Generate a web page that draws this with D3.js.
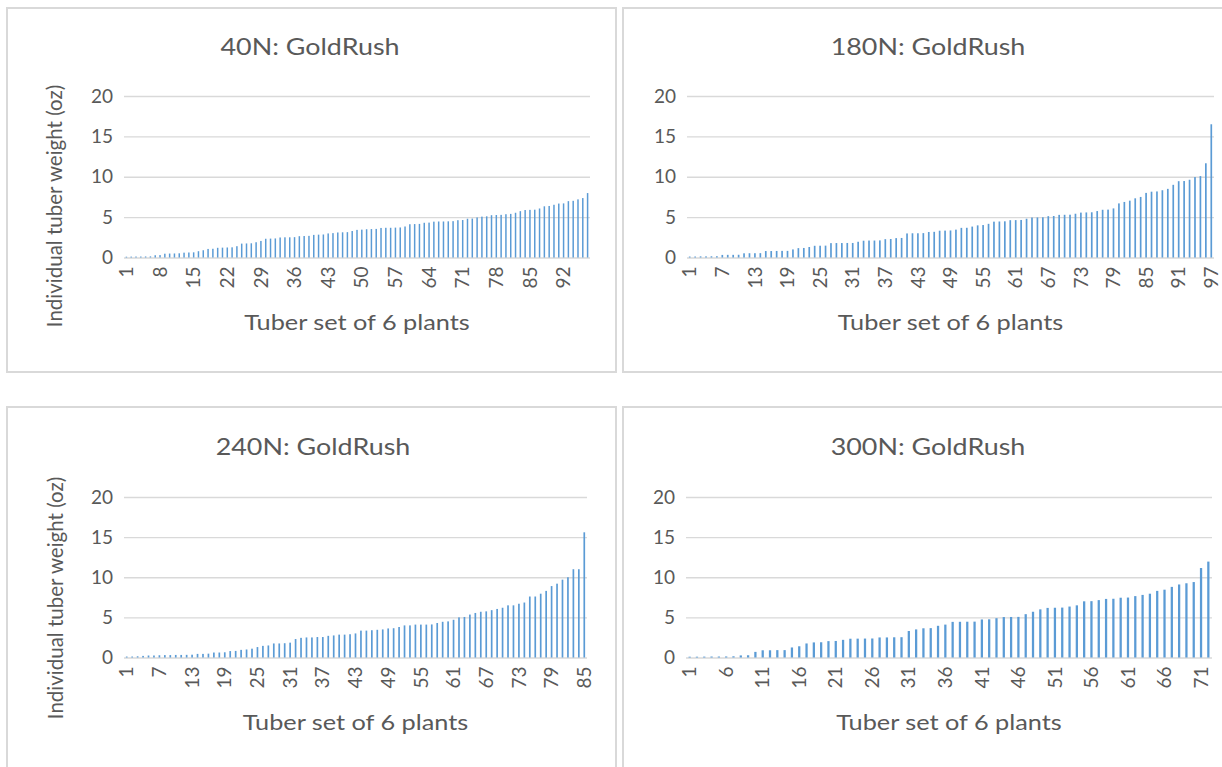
<!DOCTYPE html>
<html>
<head>
<meta charset="utf-8">
<script src="https://cdn.jsdelivr.net/npm/d3@7"></script>
<style>
  body { margin: 0; background: #fff; }
  text { font-family: Lato, "Open Sans", sans-serif; fill: #595959; }
</style>
</head>
<body>
<svg id="chart" width="1222" height="767"></svg>
<script>
// tick values shared by all four charts
const yTicks = [0, 5, 10, 15, 20];

// individual tuber weights (oz), sorted, per N rate
const w40 = [0.10,0.11,0.12,0.12,0.13,0.14,0.28,0.30,0.47,0.49,0.50,0.52,0.60,0.62,0.64,0.78,0.90,1.06,1.08,1.20,
  1.22,1.24,1.26,1.40,1.72,1.74,1.76,1.89,2.05,2.32,2.34,2.36,2.48,2.50,2.50,2.52,2.64,2.66,2.68,2.80,
  2.83,2.85,2.98,3.02,3.10,3.12,3.14,3.28,3.42,3.45,3.50,3.52,3.54,3.66,3.68,3.68,3.70,3.72,3.84,4.12,
  4.14,4.16,4.30,4.32,4.44,4.46,4.46,4.48,4.50,4.62,4.64,4.80,4.82,4.96,5.06,5.10,5.24,5.26,5.28,5.36,
  5.40,5.54,5.74,5.88,5.90,5.92,6.07,6.34,6.38,6.53,6.68,6.70,6.98,7.02,7.20,7.36,7.98];

const w180 = [0.12,0.12,0.14,0.14,0.15,0.16,0.32,0.33,0.33,0.34,0.52,0.53,0.53,0.54,0.80,0.80,0.81,0.82,0.82,1.00,
  1.16,1.18,1.30,1.45,1.46,1.47,1.78,1.79,1.79,1.80,1.80,1.95,2.08,2.10,2.10,2.12,2.27,2.29,2.40,2.42,
  2.98,3.00,3.00,3.02,3.16,3.18,3.32,3.33,3.35,3.45,3.67,3.68,3.83,3.98,4.02,4.17,4.44,4.46,4.48,4.62,
  4.63,4.65,4.80,4.95,4.96,4.98,5.12,5.14,5.28,5.29,5.30,5.42,5.56,5.58,5.60,5.75,5.91,5.93,6.08,6.70,
  6.88,7.04,7.33,7.50,8.00,8.15,8.18,8.33,8.50,9.00,9.45,9.47,9.63,9.96,10.08,11.67,16.50];

const w240 = [0.12,0.12,0.15,0.20,0.25,0.25,0.28,0.30,0.30,0.32,0.32,0.33,0.35,0.45,0.45,0.48,0.62,0.62,0.65,0.80,
  0.82,0.95,1.00,1.10,1.30,1.45,1.50,1.75,1.75,1.78,1.85,2.30,2.45,2.50,2.50,2.55,2.55,2.70,2.75,2.85,
  2.85,2.90,3.00,3.35,3.35,3.40,3.45,3.50,3.62,3.65,3.80,4.00,4.00,4.10,4.10,4.10,4.12,4.30,4.45,4.50,
  4.70,5.00,5.05,5.35,5.55,5.70,5.75,5.90,6.05,6.20,6.50,6.50,6.70,6.85,7.60,7.60,7.95,8.30,8.90,9.20,
  9.70,10.00,11.00,11.00,15.60];

const w300 = [0.10,0.10,0.11,0.12,0.12,0.13,0.15,0.26,0.28,0.70,0.90,0.90,0.92,0.92,1.25,1.40,1.75,1.88,1.90,2.04,
  2.06,2.20,2.34,2.35,2.36,2.37,2.50,2.50,2.52,2.53,3.30,3.50,3.64,3.66,3.95,4.10,4.44,4.45,4.46,4.47,
  4.74,4.76,4.90,5.04,5.05,5.06,5.40,5.70,6.00,6.18,6.20,6.22,6.35,6.50,7.00,7.02,7.15,7.30,7.32,7.45,
  7.47,7.65,7.80,7.95,8.30,8.45,8.80,9.10,9.25,9.40,11.15,11.95];

const panels = [
  { title: "40N: GoldRush",  data: w40,  step: 7, box: [7, 8, 609, 364],    titleX: 310, titleY: 47,
    plot: { left: 124, right: 590, top: 96, bottom: 257.5 }, yTitle: { x: 55, y: 206 } },
  { title: "180N: GoldRush", data: w180, step: 6, box: [623, 8, 620, 364],  titleX: 928, titleY: 47,
    plot: { left: 687, right: 1214, top: 96, bottom: 257.5 } },
  { title: "240N: GoldRush", data: w240, step: 6, box: [7, 407, 609, 380],  titleX: 313, titleY: 447,
    plot: { left: 124, right: 587, top: 497, bottom: 657.5 }, yTitle: { x: 56, y: 598 } },
  { title: "300N: GoldRush", data: w300, step: 5, box: [623, 407, 620, 380], titleX: 928, titleY: 447,
    plot: { left: 686, right: 1212, top: 497, bottom: 657.5 } }
];

// the source picture is a little wider than tall, so its text looks stretched sideways
const stretch = 1.12;

const svg = d3.select("#chart");

panels.forEach(function(p) {
  const g = svg.append("g");

  g.append("rect")
    .attr("x", p.box[0]).attr("y", p.box[1])
    .attr("width", p.box[2]).attr("height", p.box[3])
    .attr("fill", "#fff")
    .attr("stroke", "#d9d9d9")
    .attr("stroke-width", 2);

  const cats = p.data.map(function(d, i) { return i + 1; });
  const x = d3.scaleBand().domain(cats).range([p.plot.left, p.plot.right]);
  const y = d3.scaleLinear().domain([0, 20]).range([p.plot.bottom, p.plot.top]);

  // gridlines + y labels
  g.append("g")
    .attr("transform", "translate(" + p.plot.left + ",0)")
    .call(d3.axisLeft(y).tickValues(yTicks).tickSize(-(p.plot.right - p.plot.left)).tickPadding(11))
    .call(function(a) {
      a.select(".domain").remove();
      a.selectAll("line").attr("stroke", "#d9d9d9").attr("stroke-width", 1.3);
      a.selectAll("text").style("font-size", "19px").attr("fill", "#595959");
    });

  // bars
  const bw = x.bandwidth() * 0.31;
  g.selectAll(".bar")
    .data(p.data)
    .enter().append("rect")
    .attr("class", "bar")
    .attr("x", function(d, i) { return x(i + 1) + (x.bandwidth() - bw) / 2; })
    .attr("y", function(d) { return y(d); })
    .attr("width", bw)
    .attr("height", function(d) { return y(0) - y(d); })
    .attr("fill", "#5b9bd5");

  // x axis, rotated labels
  const xTicks = cats.filter(function(c) { return (c - 1) % p.step === 0; });
  g.append("g")
    .attr("transform", "translate(0," + p.plot.bottom + ")")
    .call(d3.axisBottom(x).tickValues(xTicks).tickSize(0).tickPadding(0))
    .call(function(a) {
      a.select(".domain").remove();
      a.selectAll("text")
        .style("font-size", "19px")
        .attr("fill", "#595959")
        .attr("transform", "rotate(-90)")
        .attr("text-anchor", "end")
        .attr("x", -9)
        .attr("y", 0)
        .attr("dy", "0.35em");
    });

  g.append("text")
    .attr("transform", "translate(" + p.titleX + "," + p.titleY + ") scale(" + stretch + ",1)")
    .attr("dy", "0.35em")
    .attr("text-anchor", "middle")
    .style("font-size", "24px")
    .text(p.title);

  g.append("text")
    .attr("transform", "translate(" + ((p.plot.left + p.plot.right) / 2) + "," + (p.plot.bottom + 65) + ") scale(1.15,1)")
    .attr("dy", "0.35em")
    .attr("text-anchor", "middle")
    .style("font-size", "22px")
    .text("Tuber set of 6 plants");

  if (p.yTitle) {
    g.append("text")
      .attr("transform", "translate(" + p.yTitle.x + "," + p.yTitle.y + ") rotate(-90)")
      .attr("dy", "0.35em")
      .attr("text-anchor", "middle")
      .style("font-size", "20.5px")
      .text("Individual tuber weight (oz)");
  }
});
</script>
</body>
</html>
